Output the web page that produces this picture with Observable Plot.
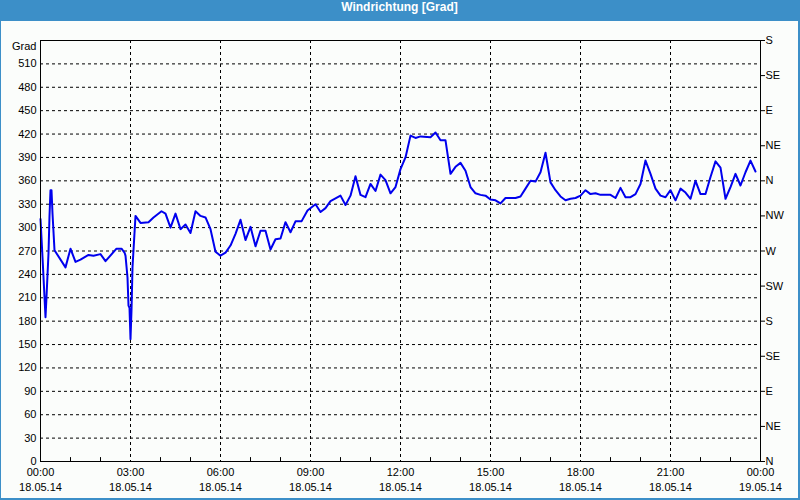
<!DOCTYPE html>
<html>
<head>
<meta charset="utf-8">
<script src="https://cdn.jsdelivr.net/npm/d3@7"></script>
<script src="https://cdn.jsdelivr.net/npm/@observablehq/plot@0.6"></script>
<style>
  html, body { margin: 0; padding: 0; background: #ffffff; }
  #win {
    width: 800px; height: 500px; box-sizing: border-box;
    border-left: 1px solid #3c8fc8; border-right: 2px solid #3c8fc8; border-bottom: 2px solid #3c8fc8;
    background: #fbfdfb; overflow: hidden;
  }
  #title {
    height: 21px; line-height: 21px; background: #3c8fc8; color: #ffffff;
    font: bold 12px "Liberation Sans", Arial, sans-serif; text-align: center;
  }
  #chart svg { display: block; }
</style>
</head>
<body>
<div id="win">
  <div id="title">Windrichtung [Grad]</div>
  <div id="chart"></div>
</div>
<script>
// minutes after 00:00 on 18.05.14
const minutes = [0,4,10,12,16,18,20,22,24,28,50,60,70,80,96,106,120,130,152,162,168,170,174,176,178,180,182,184,190,200,216,226,242,250,260,270,280,290,300,310,320,330,340,350,360,370,380,390,400,410,420,430,440,450,460,470,480,490,500,510,522,534,550,560,570,580,600,610,620,630,640,650,660,670,680,690,700,710,720,730,740,750,760,780,790,800,810,820,830,840,850,860,870,880,890,900,910,920,930,940,950,960,970,980,990,1000,1010,1020,1030,1040,1050,1060,1070,1080,1090,1100,1110,1120,1140,1150,1160,1170,1180,1190,1200,1210,1220,1230,1240,1250,1260,1270,1280,1290,1300,1310,1320,1330,1340,1350,1360,1370,1380,1390,1400,1410,1420,1430];
const direction = [311,262,185,211,267,315,348,348,318,271,249,273,256,259,265,264,266,257,273,273,268,264,236,200,197,157,194,249,315,306,307,313,321,318,300,318,298,304,293,321,315,313,298,269,264,268,277,292,310,284,301,276,296,296,272,285,286,307,294,308,308,322,330,320,325,334,341,329,341,366,342,339,356,347,368,361,344,352,375,390,418,415,417,416,422,412,412,369,378,383,373,352,344,342,341,336,335,331,338,338,338,340,350,360,359,371,396,358,348,340,335,337,338,341,348,343,344,342,342,338,351,339,339,343,356,386,369,350,341,339,348,335,350,345,337,360,343,343,365,385,377,337,352,369,354,371,386,372];

const leftTicks = [0,30,60,90,120,150,180,210,240,270,300,330,360,390,420,450,480,510];
const compassTicks = [0,45,90,135,180,225,270,315,360,405,450,495,540];
const compassLabels = ["N","NE","E","SE","S","SW","W","NW","N","NE","E","SE","S"];
const xTickHours = [0,3,6,9,12,15,18,21,24];
const xTimeLabels = ["00:00","03:00","06:00","09:00","12:00","15:00","18:00","21:00","00:00"];
const xDateLabels = ["18.05.14","18.05.14","18.05.14","18.05.14","18.05.14","18.05.14","18.05.14","18.05.14","19.05.14"];

const t0 = Date.UTC(2014, 4, 18);
const toDate = m => new Date(t0 + m * 60000);
const data = minutes.map((m, i) => ({date: toDate(m), value: direction[i]}));
const xTicks = xTickHours.map(h => toDate(h * 60));
const xLabelData = xTickHours.map((h, i) => ({date: toDate(h * 60), time: xTimeLabels[i], day: xDateLabels[i]}));
const innerGridX = xTicks.slice(1, -1);
const hourTicks = d3.range(1, 24).filter(h => h % 3 !== 0).map(h => toDate(h * 60));
const compassMap = new Map(compassTicks.map((v, i) => [v, compassLabels[i]]));

const font = "Liberation Sans, Arial, sans-serif";

const chart = Plot.plot({
  width: 797,
  height: 477,
  marginLeft: 39,
  marginRight: 38,
  marginTop: 19,
  marginBottom: 37,
  style: {fontFamily: font, fontSize: "11px", color: "#000", background: "transparent", overflow: "visible"},
  x: {type: "utc", domain: [toDate(0), toDate(1440)], axis: null},
  y: {domain: [0, 540], axis: null},
  marks: [
    Plot.ruleY(leftTicks.slice(1), {stroke: "#000", strokeWidth: 1, strokeDasharray: "3,3"}),
    Plot.ruleX(innerGridX, {stroke: "#000", strokeWidth: 1, strokeDasharray: "3,3"}),
    Plot.ruleX(hourTicks, {y1: 0, y2: 5, stroke: "#000", strokeWidth: 1}),
    Plot.line(data, {x: "date", y: "value", stroke: "#0000ee", strokeWidth: 2}),
    Plot.frame({stroke: "#000", strokeWidth: 1}),
    Plot.axisY({anchor: "left", ticks: leftTicks, tickSize: 0, tickPadding: 4, label: null, fontSize: 11}),
    Plot.axisY({anchor: "right", ticks: compassTicks, tickSize: 4, tickPadding: 1, label: null,
      tickFormat: v => compassMap.get(v), fontSize: 11}),
    Plot.text(["Grad"], {x: toDate(0), y: 540, dx: -4, dy: 6, textAnchor: "end", fill: "#000", fontSize: 11}),
    Plot.text(xLabelData, {x: "date", frameAnchor: "bottom", dy: 14, text: "time", textAnchor: "middle", fill: "#000", fontSize: 11}),
    Plot.text(xLabelData, {x: "date", frameAnchor: "bottom", dy: 29, text: "day", textAnchor: "middle", fill: "#000", fontSize: 11})
  ]
});
document.getElementById("chart").appendChild(chart);
</script>
</body>
</html>
